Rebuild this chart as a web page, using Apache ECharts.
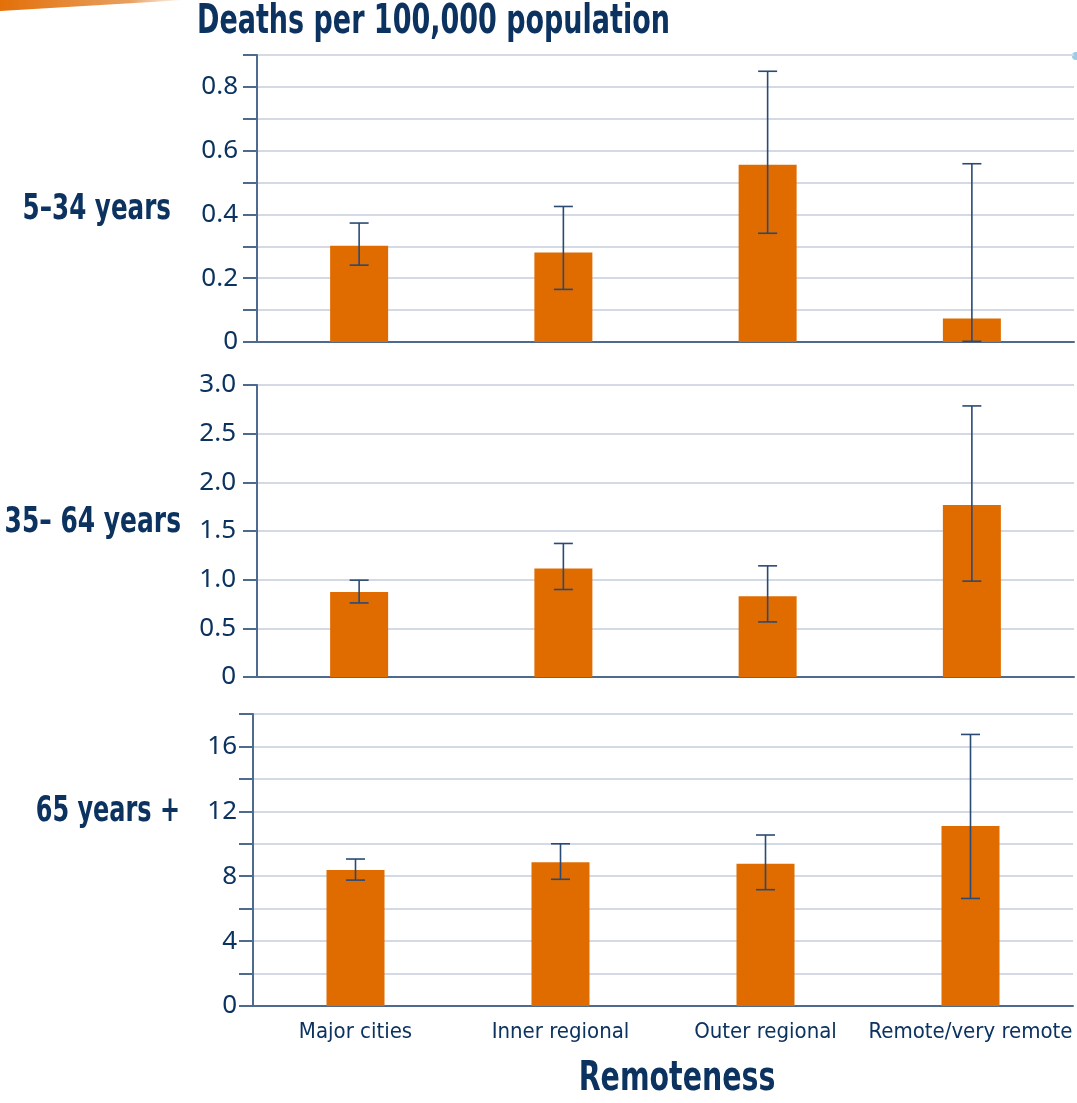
<!DOCTYPE html>
<html>
<head>
<meta charset="utf-8">
<script src="https://cdn.jsdelivr.net/npm/echarts@6/dist/echarts.min.js"></script>
<style>
html,body{margin:0;padding:0;background:#fff;}
#main{width:1077px;height:1103px;}
</style>
</head>
<body>
<div id="main"></div>
<script>
// ---- data ----
var categories = ['Major cities', 'Inner regional', 'Outer regional', 'Remote/very remote'];
var panelLabels = ['5\u201334 years', '35\u2013 64 years', '65 years +'];

var young = [0.302, 0.281, 0.556, 0.074];
var youngLow = [0.241, 0.165, 0.341, 0.002];
var youngHigh = [0.373, 0.425, 0.849, 0.559];

var mid = [0.874, 1.115, 0.830, 1.766];
var midLow = [0.761, 0.899, 0.566, 0.985];
var midHigh = [0.995, 1.372, 1.142, 2.785];

var old = [8.38, 8.86, 8.77, 11.10];
var oldLow = [7.76, 7.81, 7.17, 6.63];
var oldHigh = [9.06, 10.00, 10.54, 16.74];

var yMax = [0.9, 3.0, 18];
var yStep = [0.1, 0.5, 2];

// ---- styles ----
var NAVY = '#0c3360';
var AXIS = '#4f6a8f';
var GRID = '#d4d9e6';
var ORANGE = '#e06c00';
var ERR = '#2a4a74';
var COND = '"DejaVu Sans Condensed",sans-serif';
var REG = '"Noto Sans","Open Sans",sans-serif';

var chart = echarts.init(document.getElementById('main'));

var grids = [
  {left: 257, right: 3, top: 55, height: 287},
  {left: 257, right: 3, top: 385, height: 292},
  {left: 253, right: 4, top: 714, height: 292}
];
var labelMargins = [19, 21, 16];

function yLabelFmt(i) {
  return function (v) {
    if (Math.abs(v) < 1e-9) return '0';
    if (i === 0) {
      var k = Math.round(v * 10);
      return k % 2 === 0 ? (k / 10).toFixed(1) : '';
    }
    if (i === 1) return v.toFixed(1);
    var m = Math.round(v);
    return m % 4 === 0 ? String(m) : '';
  };
}

var xAxes = [], yAxes = [], series = [];
var values = [young, mid, old], lows = [youngLow, midLow, oldLow], highs = [youngHigh, midHigh, oldHigh];

for (var i = 0; i < 3; i++) {
  xAxes.push({
    type: 'category', gridIndex: i, data: categories,
    axisLine: {show: true, lineStyle: {color: AXIS, width: 2}},
    axisTick: {show: false},
    axisLabel: {show: i === 2, interval: 0, color: NAVY, fontFamily: COND, fontSize: 22, margin: 15},
    splitLine: {show: false}
  });
  yAxes.push({
    type: 'value', gridIndex: i, min: 0, max: yMax[i], interval: yStep[i],
    axisLine: {show: true, lineStyle: {color: AXIS, width: 2}},
    axisTick: {show: true, length: 14, lineStyle: {color: AXIS, width: 2}},
    axisLabel: {color: NAVY, fontFamily: REG, fontSize: 26, margin: labelMargins[i], formatter: yLabelFmt(i)},
    splitLine: {show: true, lineStyle: {color: GRID, width: 2}}
  });
  series.push({
    type: 'bar', xAxisIndex: i, yAxisIndex: i, data: values[i], barWidth: 58,
    itemStyle: {color: ORANGE}, z: 2
  });
  (function (lo, hi) {
    series.push({
      type: 'custom', xAxisIndex: i, yAxisIndex: i, z: 5,
      data: categories.map(function (c, j) { return [j, lo[j], hi[j]]; }),
      renderItem: function (params, api) {
        var x = api.value(0);
        var pLo = api.coord([x, api.value(1)]);
        var pHi = api.coord([x, api.value(2)]);
        var cw = 9.5;
        var st = {stroke: ERR, lineWidth: 1.6};
        return {
          type: 'group',
          children: [
            {type: 'line', shape: {x1: pLo[0], y1: pLo[1], x2: pHi[0], y2: pHi[1]}, style: st},
            {type: 'line', shape: {x1: pLo[0] - cw, y1: pLo[1], x2: pLo[0] + cw, y2: pLo[1]}, style: st},
            {type: 'line', shape: {x1: pHi[0] - cw, y1: pHi[1], x2: pHi[0] + cw, y2: pHi[1]}, style: st}
          ]
        };
      }
    });
  })(lows[i], highs[i]);
}

var labelY = [210, 523, 812];
var labelX = [171, 181, 180];
var labelScale = [0.76, 0.77, 0.74];
var graphics = [
  {type: 'polygon', shape: {points: [[0, 0], [185, 0], [0, 11]]},
   style: {fill: new echarts.graphic.LinearGradient(0, 0, 1, 0, [
     {offset: 0, color: '#e36f08'}, {offset: 0.7, color: '#e8a060'}, {offset: 1, color: '#ffffff'}])}},
  {type: 'circle', shape: {cx: 1076, cy: 56, r: 4}, style: {fill: '#9ccbea'}},
  {type: 'text', x: 197, y: 23, scaleX: 0.75,
   style: {text: 'Deaths per 100,000 population', fill: NAVY, font: 'bold 40px ' + COND, textAlign: 'left', textVerticalAlign: 'middle'}},
  {type: 'text', x: 677, y: 1080, scaleX: 0.79,
   style: {text: 'Remoteness', fill: NAVY, font: 'bold 40px ' + COND, textAlign: 'center', textVerticalAlign: 'middle'}}
];
for (var k = 0; k < 3; k++) {
  graphics.push({type: 'text', x: labelX[k], y: labelY[k], scaleX: labelScale[k],
    style: {text: panelLabels[k], fill: NAVY, font: 'bold 36px ' + COND, textAlign: 'right', textVerticalAlign: 'middle'}});
}

chart.setOption({
  backgroundColor: '#ffffff',
  animation: false,
  grid: grids,
  xAxis: xAxes,
  yAxis: yAxes,
  series: series,
  graphic: graphics
});
</script>
</body>
</html>
